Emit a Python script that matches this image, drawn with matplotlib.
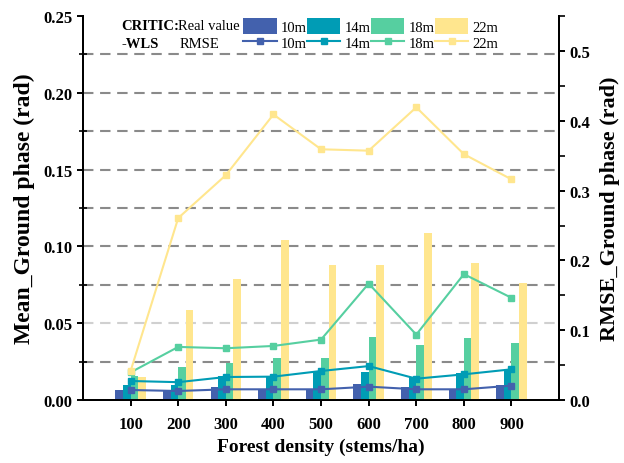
import numpy as np
import matplotlib

matplotlib.use('Agg')
from matplotlib import pyplot as plt
from matplotlib.lines import Line2D
from matplotlib.patches import Patch
from matplotlib.ticker import MultipleLocator

plt.rcParams['font.family'] = ['Liberation Serif', 'DejaVu Serif']

# data
density = [100, 200, 300, 400, 500, 600, 700, 800, 900]
sizes = ['10m', '14m', '18m', '22m']

real_10 = [0.0067, 0.0061, 0.0085, 0.0076, 0.0072, 0.0106, 0.0087, 0.0076, 0.0098]
real_14 = [0.0098, 0.0100, 0.0160, 0.0158, 0.0185, 0.0187, 0.0155, 0.0180, 0.0207]
real_18 = [0.0160, 0.0215, 0.0240, 0.0273, 0.0273, 0.0414, 0.0358, 0.0406, 0.0375]
real_22 = [0.0154, 0.0588, 0.0788, 0.1040, 0.0877, 0.0877, 0.1085, 0.0892, 0.0762]

rmse_10 = [0.0148, 0.0134, 0.0158, 0.0158, 0.0158, 0.0196, 0.0158, 0.0158, 0.0210]
rmse_14 = [0.0277, 0.0260, 0.0334, 0.0339, 0.0420, 0.0490, 0.0310, 0.0372, 0.0444]
rmse_18 = [0.0400, 0.0764, 0.0745, 0.0778, 0.0869, 0.1670, 0.0940, 0.1805, 0.1466]
rmse_22 = [0.0420, 0.2607, 0.3220, 0.4088, 0.3590, 0.3570, 0.4190, 0.3520, 0.3160]

colors = ['#4361AD', '#009CB5', '#56CFA0', '#FFE68E']

real = [real_10, real_14, real_18, real_22]
rmse = [rmse_10, rmse_14, rmse_18, rmse_22]

fig = plt.figure(figsize=(6.24, 4.64), dpi=100)
ax = fig.add_axes([0.133, 0.135, 0.763, 0.829])
ax2 = ax.twinx()

x = np.array(density)
w = 16
for k in range(4):
    ax.bar(x + (k - 1.5) * w, real[k], width=w, color=colors[k], zorder=3, linewidth=0)

for k in range(4):
    ax2.plot(x, rmse[k], color=colors[k], lw=1.5, marker='s', ms=5, zorder=4)

# dashed guide lines
for v in np.arange(0.025, 0.25, 0.025):
    c = '#d0d0d0' if abs(v - 0.05) < 1e-6 else '#8a8a8a'
    ax.axhline(v, color=c, ls=(0, (5, 3.2)), lw=1.5, zorder=1)

ax.set_xlim(0, 1000)
ax.set_ylim(0, 0.25)
ax2.set_ylim(0, 0.55)
ax.set_xticks(density)
ax.yaxis.set_major_locator(MultipleLocator(0.05))
ax.yaxis.set_minor_locator(MultipleLocator(0.025))
ax2.yaxis.set_major_locator(MultipleLocator(0.1))
ax2.yaxis.set_minor_locator(MultipleLocator(0.05))
ax.set_yticklabels(['%.2f' % t for t in ax.get_yticks()])

for a in (ax, ax2):
    a.spines['top'].set_visible(False)
    for s in a.spines.values():
        s.set_linewidth(1.4)
    a.tick_params(which='major', direction='out', length=4, width=1.4, labelsize=12)
    for lab in a.get_xticklabels() + a.get_yticklabels():
        lab.set_fontweight('bold')
ax.tick_params(axis='y', which='minor', direction='inout', length=6, width=1.2)
ax2.tick_params(axis='y', which='minor', direction='out', length=4, width=1.2)
ax.tick_params(axis='x', pad=7)

ax.set_xlabel('Forest density (stems/ha)', fontsize=14, fontweight='bold', labelpad=4)
ax.set_ylabel('Mean_Ground phase (rad)', fontsize=17, fontweight='bold', labelpad=6)
ax2.set_ylabel('RMSE_Ground phase (rad)', fontsize=16, fontweight='bold', labelpad=7)

# legend: bars on first row, lines on second
handles = []
labels = []
for k in range(4):
    handles.append(Patch(color=colors[k], linewidth=0))
    labels.append(sizes[k])
    handles.append(Line2D([], [], color=colors[k], lw=1.5, marker='s', ms=5))
    labels.append(sizes[k])
ax2.legend(handles, labels, ncol=4, loc='upper left', frameon=False,
           bbox_to_anchor=(243 / 624, 1 - 19 / 464), bbox_transform=fig.transFigure,
           fontsize=10.5, handlelength=2.3, handleheight=1.3, handletextpad=0.3,
           columnspacing=0.0, labelspacing=0.05, borderpad=0, borderaxespad=0)

fig.text(121.7 / 624, 1 - 27 / 464, 'CRITIC:', fontsize=10.5, fontweight='bold', va='center')
fig.text(178 / 624, 1 - 27 / 464, 'Real value', fontsize=10.5, va='center')
fig.text(121.7 / 624, 1 - 45 / 464, '-WLS', fontsize=10.5, fontweight='bold', va='center')
fig.text(180 / 624, 1 - 45 / 464, 'RMSE', fontsize=10.5, va='center')

fig.savefig('out.png', dpi=100)
